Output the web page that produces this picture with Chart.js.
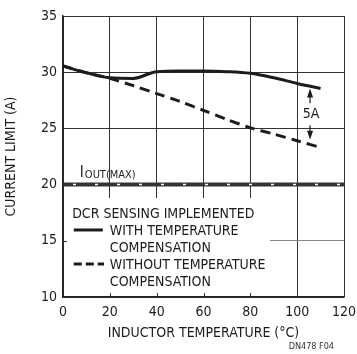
<!DOCTYPE html>
<html>
<head>
<meta charset="utf-8">
<script src="https://cdn.jsdelivr.net/npm/chart.js@4"></script>
<style>
  html, body { margin: 0; padding: 0; background: #fff; }
  canvas { display: block; }
</style>
</head>
<body>
<canvas id="chart" width="357" height="354"></canvas>
<script>
// values (inductor temperature in °C, current limit in A)
const temps = [0, 10, 20, 30, 40, 50, 60, 70, 80, 90, 100, 110];
const withComp = [30.55, 29.95, 29.5, 29.45, 30.05, 30.1, 30.1, 30.05, 29.9, 29.5, 29.0, 28.55];
const withoutComp = [30.55, 29.95, 29.45, 28.8, 28.1, 27.4, 26.6, 25.8, 25.05, 24.5, 23.9, 23.3];
const ioutMax = 20;
const xRange = [0, 120];
const yRange = [10, 35];
const legendLines = ["DCR SENSING IMPLEMENTED", "WITH TEMPERATURE", "COMPENSATION", "WITHOUT TEMPERATURE", "COMPENSATION"];
const deltaLabel = "5A";

const FONT = "'Liberation Sans Narrow', 'DejaVu Sans Condensed', 'Roboto', sans-serif";
const INK = "#1c1c1c";

function toPoints(ys) {
    const pts = [];
    for (let i = 0; i < temps.length; i++) {
        pts.push({ x: temps[i], y: ys[i] });
    }
    return pts;
}

const annotations = {
    id: "annotations",
    beforeDatasetsDraw(chart) {
        const ctx = chart.ctx;
        const x = chart.scales.x;
        const y = chart.scales.y;
        const area = chart.chartArea;

        // the legend block hides the grid in the lower left corner
        const right = x.getPixelForValue(88.4);
        const top = y.getPixelForValue(18.8);
        ctx.save();
        ctx.fillStyle = "#fff";
        ctx.fillRect(area.left + 1, top, right - area.left - 1, area.bottom - top - 1);

        // short inward ticks that stay visible under the legend
        ctx.strokeStyle = "#333";
        ctx.lineWidth = 1;
        ctx.beginPath();
        [20, 40, 60, 80].forEach(function (v) {
            const px = Math.round(x.getPixelForValue(v)) + 0.5;
            ctx.moveTo(px, area.bottom);
            ctx.lineTo(px, area.bottom - 4);
        });
        const py = Math.round(y.getPixelForValue(15)) + 0.5;
        ctx.moveTo(area.left, py);
        ctx.lineTo(area.left + 4, py);
        ctx.stroke();
        ctx.restore();
    },
    afterDatasetsDraw(chart) {
        const ctx = chart.ctx;
        const x = chart.scales.x;
        const y = chart.scales.y;
        ctx.save();
        ctx.fillStyle = INK;
        ctx.textBaseline = "alphabetic";

        // I OUT(MAX) label
        const lx = x.getPixelForValue(7.2);
        const ly = y.getPixelForValue(ioutMax) - 8;
        ctx.font = "15px " + FONT;
        ctx.fillText("I", lx, ly);
        const iw = ctx.measureText("I").width;
        ctx.font = "11px " + FONT;
        ctx.fillText("OUT(MAX)", lx + iw + 1, ly + 1);

        // legend text
        ctx.font = "14px " + FONT;
        const left = x.getPixelForValue(3.9);
        const indent = x.getPixelForValue(20.0);
        const base = y.getPixelForValue(17.03);
        const step = 17;
        ctx.fillText(legendLines[0], left, base);
        for (let i = 1; i < legendLines.length; i++) {
            ctx.fillText(legendLines[i], indent, base + step * i);
        }

        // legend line samples
        ctx.strokeStyle = INK;
        ctx.lineWidth = 3;
        ctx.beginPath();
        ctx.moveTo(x.getPixelForValue(4.6), base + step - 5);
        ctx.lineTo(x.getPixelForValue(17), base + step - 5);
        ctx.stroke();
        ctx.setLineDash([8, 4]);
        ctx.beginPath();
        ctx.moveTo(x.getPixelForValue(4.6), base + step * 3 - 5);
        ctx.lineTo(x.getPixelForValue(17.5), base + step * 3 - 5);
        ctx.stroke();
        ctx.setLineDash([]);

        // 5A arrow between the curves
        const ax = x.getPixelForValue(105.5);
        const yTop = y.getPixelForValue(28.55);
        const yBot = y.getPixelForValue(24.0);
        const yMid = y.getPixelForValue(26.35);
        ctx.lineWidth = 1.2;
        ctx.beginPath();
        ctx.moveTo(ax, yTop + 6);
        ctx.lineTo(ax, yMid - 10);
        ctx.moveTo(ax, yMid + 12);
        ctx.lineTo(ax, yBot - 6);
        ctx.stroke();
        ctx.beginPath();
        ctx.moveTo(ax, yTop);
        ctx.lineTo(ax - 3, yTop + 9);
        ctx.lineTo(ax + 3, yTop + 9);
        ctx.closePath();
        ctx.moveTo(ax, yBot);
        ctx.lineTo(ax - 3, yBot - 9);
        ctx.lineTo(ax + 3, yBot - 9);
        ctx.closePath();
        ctx.fill();
        ctx.font = "14px " + FONT;
        ctx.textAlign = "center";
        ctx.textBaseline = "middle";
        ctx.fillStyle = INK;
        ctx.fillText(deltaLabel, ax + 1, yMid + 1);

        // figure code
        ctx.font = "9px " + FONT;
        ctx.textAlign = "right";
        ctx.fillStyle = "#333";
        ctx.fillText("DN478 F04", 334, 347);
        ctx.restore();
    }
};

new Chart(document.getElementById("chart"), {
    type: "line",
    data: {
        datasets: [
            {
                label: "I OUT(MAX)",
                data: [{ x: xRange[0], y: ioutMax }, { x: xRange[1], y: ioutMax }],
                borderColor: "#333",
                borderWidth: 4,
                pointRadius: 0,
                order: 4
            },
            {
                label: "I OUT(MAX) gaps",
                data: [{ x: xRange[0], y: ioutMax }, { x: xRange[1], y: ioutMax }],
                borderColor: "#fff",
                borderWidth: 1.5,
                borderDash: [3, 19],
                borderDashOffset: -10,
                pointRadius: 0,
                order: 3
            },
            {
                label: "Without temperature compensation",
                data: toPoints(withoutComp),
                borderColor: INK,
                borderWidth: 3,
                borderDash: [10, 6],
                tension: 0.3,
                pointRadius: 0,
                order: 2
            },
            {
                label: "With temperature compensation",
                data: toPoints(withComp),
                borderColor: INK,
                borderWidth: 3,
                cubicInterpolationMode: "monotone",
                pointRadius: 0,
                order: 1
            }
        ]
    },
    options: {
        responsive: false,
        animation: false,
        layout: {
            padding: { top: 16, right: 13, bottom: 12, left: 0 }
        },
        plugins: {
            legend: { display: false },
            tooltip: { enabled: false }
        },
        scales: {
            x: {
                type: "linear",
                min: xRange[0],
                max: xRange[1],
                afterFit: function (s) {
                    s.height = 45;
                    s.paddingLeft = 0;
                    s.paddingRight = 0;
                },
                ticks: {
                    stepSize: 20,
                    padding: 7,
                    color: INK,
                    font: { family: FONT, size: 14 }
                },
                grid: {
                    color: "#333",
                    lineWidth: 1,
                    drawTicks: false
                },
                border: { color: "#222", width: 1.5 },
                title: {
                    display: true,
                    text: "INDUCTOR TEMPERATURE (°C)",
                    color: INK,
                    padding: 0,
                    font: { family: FONT, size: 14 }
                }
            },
            y: {
                type: "linear",
                min: yRange[0],
                max: yRange[1],
                afterFit: function (s) {
                    s.width = 63;
                    s.paddingTop = 0;
                    s.paddingBottom = 0;
                },
                ticks: {
                    stepSize: 5,
                    padding: 6,
                    color: INK,
                    font: { family: FONT, size: 14 }
                },
                grid: {
                    color: function (c) { return c.tick && c.tick.value === 15 ? "#888" : "#333"; },
                    lineWidth: 1,
                    drawTicks: false
                },
                border: { color: "#222", width: 1.5 },
                title: {
                    display: true,
                    text: "CURRENT LIMIT (A)",
                    color: INK,
                    padding: { top: 3, bottom: 0 },
                    font: { family: FONT, size: 14 }
                }
            }
        }
    },
    plugins: [annotations]
});
</script>
</body>
</html>
